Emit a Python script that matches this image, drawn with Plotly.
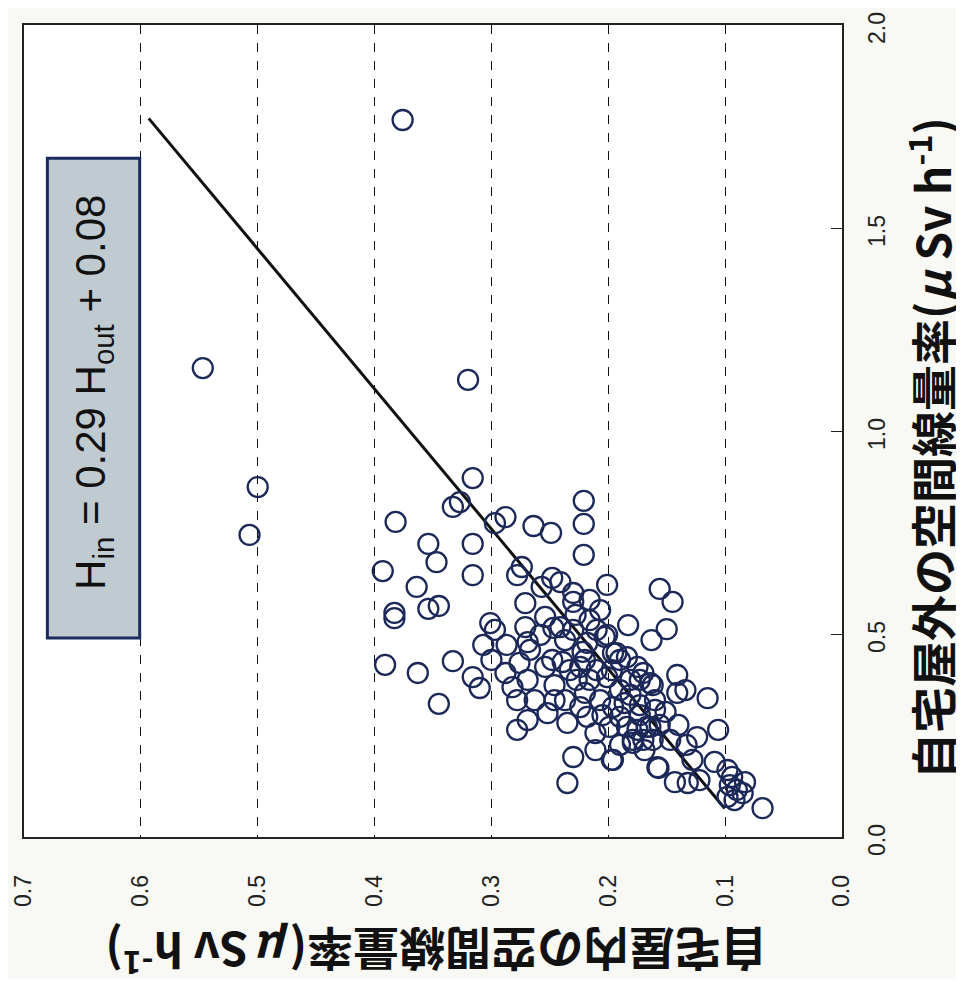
import plotly.graph_objects as go

# Indoor (H_in) and outdoor (H_out) air dose rates, µSv/h
h_in = [0.376, 0.547, 0.320, 0.500, 0.507,
        0.316, 0.333, 0.327, 0.382, 0.297, 0.288, 0.264, 0.249, 0.221, 0.221,
        0.221, 0.354, 0.347, 0.316, 0.316, 0.393, 0.364, 0.354, 0.345, 0.383,
        0.383, 0.391, 0.363, 0.345, 0.333, 0.316, 0.310, 0.301, 0.297, 0.307,
        0.300, 0.287, 0.288, 0.282, 0.278, 0.278, 0.274, 0.278, 0.271, 0.271,
        0.269, 0.276, 0.269, 0.263, 0.269, 0.254, 0.257, 0.248, 0.241, 0.247,
        0.241, 0.254, 0.248, 0.246, 0.252, 0.235, 0.230, 0.235, 0.230, 0.230,
        0.230, 0.239, 0.233, 0.224, 0.227, 0.220, 0.216, 0.210, 0.203, 0.218,
        0.222, 0.220, 0.224, 0.218, 0.211, 0.211, 0.196, 0.201, 0.196, 0.201,
        0.183, 0.163, 0.156, 0.190, 0.184, 0.175, 0.170, 0.164, 0.173, 0.196,
        0.190, 0.184, 0.175, 0.167, 0.179, 0.170, 0.162, 0.199, 0.158, 0.186,
        0.145, 0.150, 0.201, 0.141, 0.134, 0.162, 0.115, 0.193, 0.106, 0.124,
        0.133, 0.128, 0.109, 0.157, 0.143, 0.132, 0.098, 0.094, 0.096, 0.090,
        0.083, 0.085, 0.098, 0.092, 0.068, 0.197, 0.141, 0.151, 0.164, 0.179,
        0.267, 0.258, 0.237, 0.228, 0.216, 0.207, 0.246, 0.237, 0.216, 0.207,
        0.205, 0.190, 0.181, 0.173, 0.160, 0.156, 0.169, 0.190, 0.210, 0.197,
        0.181, 0.160, 0.147, 0.140, 0.122, 0.173]
h_out = [1.766, 1.155, 1.126, 0.862, 0.744,
         0.884, 0.813, 0.825, 0.776, 0.773, 0.788, 0.766, 0.749, 0.828, 0.771,
         0.695, 0.722, 0.677, 0.722, 0.645, 0.655, 0.616, 0.562, 0.569, 0.552,
         0.539, 0.424, 0.404, 0.328, 0.433, 0.394, 0.367, 0.527, 0.510, 0.473,
         0.436, 0.473, 0.404, 0.369, 0.337, 0.264, 0.665, 0.645, 0.576, 0.517,
         0.480, 0.429, 0.387, 0.337, 0.288, 0.542, 0.616, 0.638, 0.628, 0.515,
         0.517, 0.419, 0.436, 0.374, 0.305, 0.281, 0.197, 0.133, 0.601, 0.579,
         0.510, 0.431, 0.411, 0.419, 0.387, 0.436, 0.534, 0.510, 0.493, 0.478,
         0.456, 0.355, 0.320, 0.296, 0.256, 0.214, 0.190, 0.394, 0.453, 0.621,
         0.522, 0.485, 0.611, 0.436, 0.443, 0.419, 0.404, 0.379, 0.387, 0.320,
         0.296, 0.271, 0.264, 0.271, 0.239, 0.239, 0.239, 0.271, 0.172, 0.330,
         0.579, 0.512, 0.498, 0.399, 0.362, 0.374, 0.342, 0.453, 0.264, 0.246,
         0.227, 0.190, 0.185, 0.170, 0.135, 0.133, 0.165, 0.148, 0.128, 0.116,
         0.135, 0.108, 0.099, 0.091, 0.071, 0.190, 0.355, 0.308, 0.271, 0.232,
         0.461, 0.498, 0.485, 0.547, 0.584, 0.559, 0.337, 0.337, 0.387, 0.337,
         0.300, 0.362, 0.350, 0.325, 0.313, 0.276, 0.214, 0.227, 0.411, 0.411,
         0.387, 0.337, 0.239, 0.276, 0.140, 0.300]

# Regression H_in = slope * H_out + intercept
slope = 0.29
intercept = 0.08
fit_out = [0.07, 1.77]
fit_in = [slope * v + intercept for v in fit_out]

x_ticks = [0.7, 0.6, 0.5, 0.4, 0.3, 0.2, 0.1, 0.0]
y_ticks = [0.0, 0.5, 1.0, 1.5, 2.0]

eq_text = "H<sub>in</sub> = 0.29 H<sub>out</sub> + 0.08"
title_out = "自宅屋外の空間線量率(<i>μ</i> Sv h<sup>-1</sup>)"
title_in = "自宅屋内の空間線量率(<i>μ</i> Sv h<sup>-1</sup>)"

navy = "#1c2858"
lat = "Liberation Sans, Arial, sans-serif"
cjk = "Noto Sans CJK JP, Liberation Sans, sans-serif"

# figure kept inside the 964x987 window (page body has an 8px margin)
OX, OY = 8, 8
W, H = 964 - 2 * OX, 987 - 2 * OY
L, T = 24 - OX, 25 - OY
pw, ph = 818, 812
R, B = W - L - pw, H - T - ph


def px(xp):
    return (xp - OX - L) / pw


def py(yp):
    return (H - (yp - OY) - B) / ph


fig = go.Figure()
fig.add_trace(go.Scatter(
    x=fit_in, y=fit_out, mode="lines",
    line=dict(color="#111111", width=3), showlegend=False, hoverinfo="skip"))
fig.add_trace(go.Scatter(
    x=h_in, y=h_out, mode="markers",
    marker=dict(symbol="circle-open", size=20, color=navy,
                line=dict(width=2.3, color=navy)),
    showlegend=False))

# equation box
fig.add_shape(type="rect", xref="x", yref="y",
              x0=0.680, x1=0.601, y0=0.49, y1=1.672,
              fillcolor="#bfcbd1", line=dict(color="#1b2b5e", width=3),
              layer="above")
fig.add_annotation(x=0.6405, y=1.095, xref="x", yref="y", text=eq_text,
                   textangle=-90, showarrow=False,
                   xanchor="center", yanchor="middle",
                   font=dict(family=lat, size=42, color="#111111"))

# right-axis tick labels (drawn as text so the top one is not clipped)
for v in y_ticks:
    fig.add_annotation(x=px(877), y=v, xref="paper", yref="y",
                       text=f"{v:.1f}", textangle=-90, showarrow=False,
                       xanchor="center", yanchor="middle", yshift=-3,
                       font=dict(family=lat, size=23, color="#222222"))

# axis titles
fig.add_annotation(x=px(929), y=py(448), xref="paper", yref="paper",
                   text="<b>" + title_out + "</b>", textangle=-90, showarrow=False,
                   xanchor="center", yanchor="middle",
                   font=dict(family=cjk, size=46, color="#111111"))
fig.add_annotation(x=px(436), y=py(954), xref="paper", yref="paper",
                   text="<b>" + title_in + "</b>", textangle=180, showarrow=False,
                   xanchor="center", yanchor="middle",
                   font=dict(family=cjk, size=46, color="#111111"))

fig.update_layout(
    width=W, height=H,
    margin=dict(l=L, r=R, t=T, b=B, autoexpand=False),
    paper_bgcolor="#f8f8f5", plot_bgcolor="#ffffff",
    font=dict(family=lat, color="#222222"),
    xaxis=dict(range=[0.7, 0.0], tickvals=x_ticks, tickformat=".1f",
               tickangle=-90, ticks="", showgrid=True, gridcolor="#111111",
               griddash="dash", gridwidth=1.4, zeroline=False, automargin=False,
               showline=True, mirror=True, linecolor="#222222", linewidth=1.6,
               tickfont=dict(size=23, color="#222222"), ticklabelstandoff=27,
               ticklabeloverflow="allow"),
    yaxis=dict(range=[0.0, 2.0], tickvals=y_ticks, showticklabels=False,
               side="right", ticks="inside", ticklen=11,
               tickcolor="#222222", showgrid=False, zeroline=False, automargin=False,
               showline=True, mirror=True, linecolor="#222222", linewidth=1.6),
)

fig.write_html("out.html")
